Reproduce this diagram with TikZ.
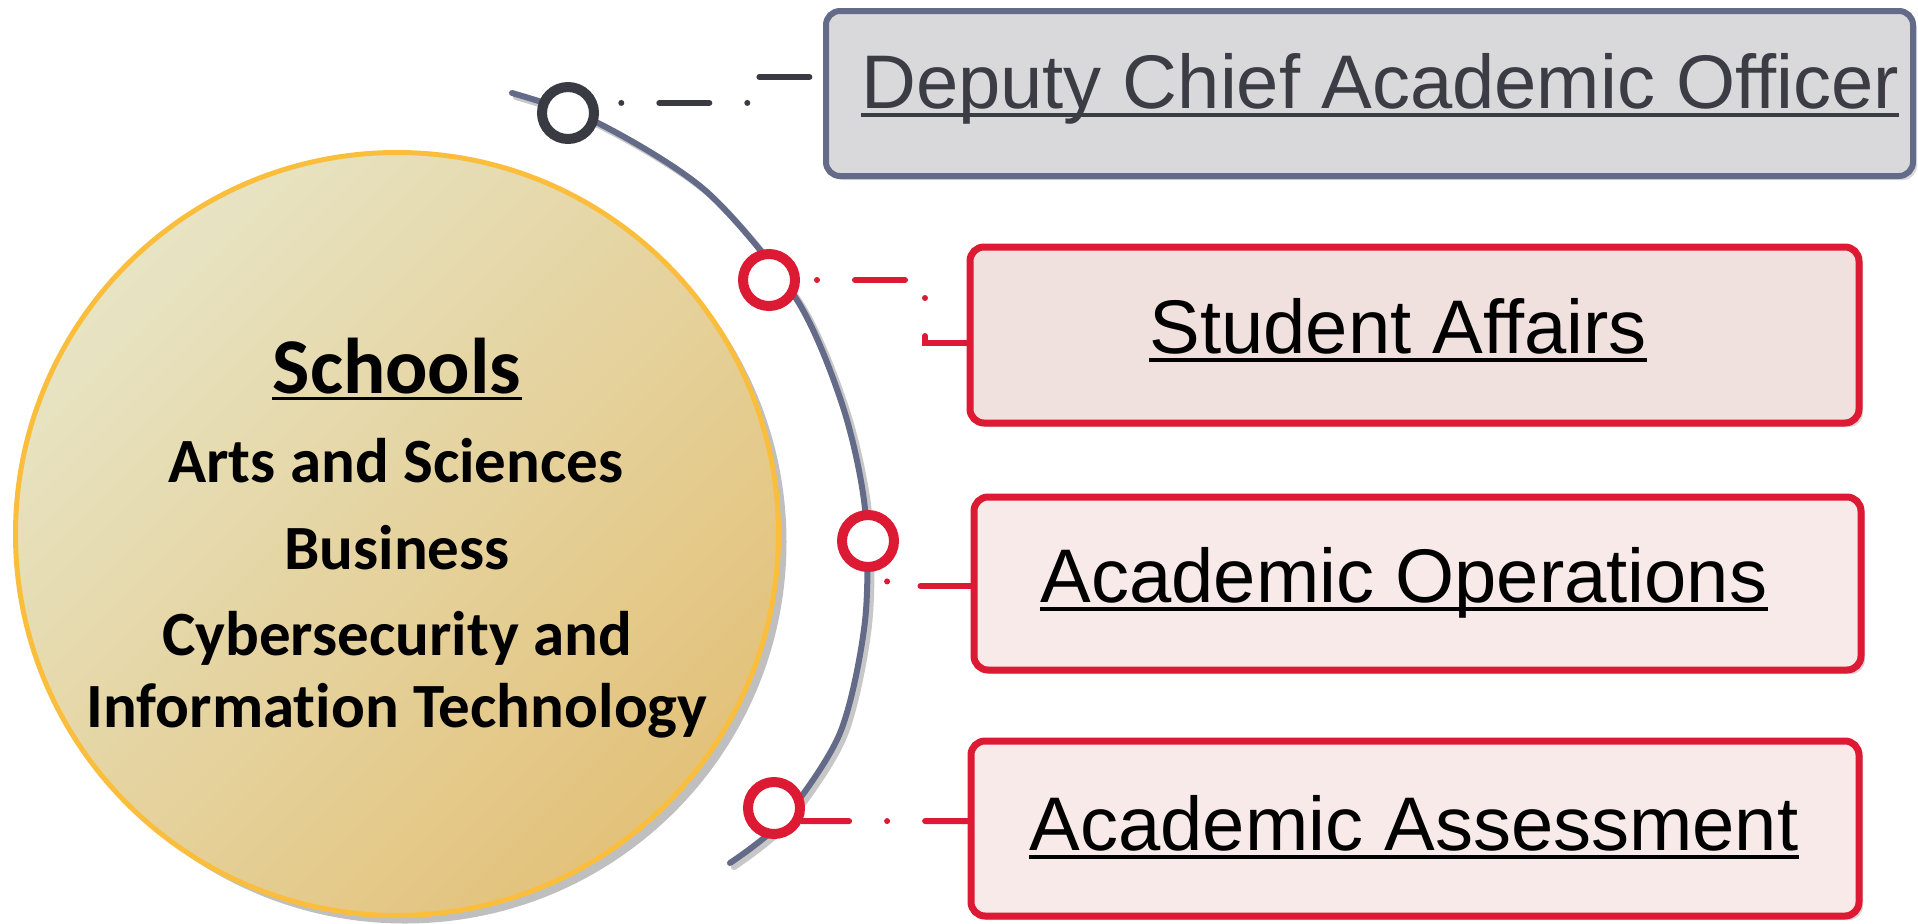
\documentclass[tikz,border=0pt]{standalone}
\usepackage{fontspec}
\setmainfont[Ligatures=NoCommon]{Carlito}
\newfontfamily\boxfont{Liberation Sans}
\usetikzlibrary{shadows}

\definecolor{arcblue}{HTML}{646B88}
\definecolor{ringdark}{HTML}{3A3B42}
\definecolor{ringred}{HTML}{DC1A33}
\definecolor{deputyfill}{HTML}{D9D9DC}
\definecolor{studentfill}{HTML}{F0E1DF}
\definecolor{unitfill}{HTML}{F8EAE8}
\definecolor{deputytext}{HTML}{3B3C44}
\definecolor{schoolyellow}{HTML}{FBBE3C}
\definecolor{schooltop}{HTML}{E7E4C4}
\definecolor{schoolbottom}{HTML}{E3C27A}

\tikzset{
  ring/.style={circle,draw,line width=5pt,fill=white,minimum size=26pt,inner sep=0pt,
    drop shadow={shadow xshift=1.5pt,shadow yshift=-1.5pt,opacity=0.25}},
  unitbox/.style={draw=ringred,fill=unitfill,line width=3.5pt,rounded corners=7pt,inner sep=0pt,
    drop shadow={shadow xshift=2pt,shadow yshift=-2pt,opacity=0.3}},
  boxtext/.style={anchor=base,inner sep=0pt,font=\boxfont\fontsize{38}{44}\selectfont},
  schooltext/.style={anchor=base,inner sep=0pt,font=\bfseries\fontsize{31.5}{36}\selectfont},
  link/.style={line width=3pt,line cap=round,dash pattern=on 0pt off 19pt on 25pt off 19pt},
  uline/.style={line width=2pt}
}

\begin{document}
\begin{tikzpicture}[x=0.5pt,y=-0.5pt]
  \useasboundingbox (0,0) rectangle (1918,923);

  % the arc
  \draw[black!22,line width=3pt,line cap=round,xshift=2pt,yshift=-2pt] plot[smooth] coordinates {(512,93) (600,124) (707,192) (797,300) (843,407) (865,509) (865,621) (840,733) (783,820) (730,863)};
  \draw[arcblue,line width=3pt,line cap=round] plot[smooth] coordinates {(512,93) (600,124) (707,192) (797,300) (843,407) (865,509) (865,621) (840,733) (783,820) (730,863)};

  % schools
  \node[circle,draw=schoolyellow,line width=2.5pt,minimum size=381.5pt,inner sep=0pt,
    top color=schooltop,bottom color=schoolbottom,shading angle=45,
    drop shadow={shadow xshift=4pt,shadow yshift=-4pt,opacity=0.5}] (schools) at (397,534) {};
  \node[schooltext,font=\bfseries\fontsize{39.5}{44}\selectfont] (schoolstitle) at (397,393) {Schools};
  \draw[line width=1.5pt] ([yshift=-2.5pt]schoolstitle.base west) -- ([yshift=-2.5pt]schoolstitle.base east);
  \node[schooltext] (arts) at (396,482) {Arts and Sciences};
  \node[schooltext] (business) at (397,569) {Business};
  \node[schooltext] (cyber) at (397,655) {Cybersecurity and};
  \node[schooltext] (infotech) at (397,727) {Information Technology};

  % boxes
  \node[unitbox,draw=arcblue,fill=deputyfill,line width=3pt,minimum width=543.5pt,minimum height=82.5pt] (deputy) at (1369.5,93.5) {};
  \node[unitbox,fill=studentfill,minimum width=444.5pt,minimum height=88pt] (student) at (1414.5,335) {};
  \node[unitbox,minimum width=443.5pt,minimum height=86.5pt] (operations) at (1417.5,583.5) {};
  \node[unitbox,minimum width=444pt,minimum height=87.5pt] (assessment) at (1415,828.5) {};

  \node[boxtext,text=deputytext] (deputytxt) at (1380,108) {Deputy Chief Academic Officer};
  \node[boxtext] (studenttxt) at (1398,353) {Student Affairs};
  \node[boxtext] (operationstxt) at (1404,602) {Academic Operations};
  \node[boxtext] (assessmenttxt) at (1414,850) {Academic Assessment};
  \foreach \t/\c in {deputytxt/deputytext,studenttxt/black,operationstxt/black,assessmenttxt/black}
    \draw[uline,\c] ([yshift=-3.5pt]\t.base west) -- ([yshift=-3.5pt]\t.base east);

  % rings
  \node[ring,draw=ringdark] (deputyring) at (568,113) {};
  \node[ring,draw=ringred] (studentring) at (769,280) {};
  \node[ring,draw=ringred] (operationsring) at (868,541) {};
  \node[ring,draw=ringred] (assessmentring) at (774,808) {};

  % connectors
  \draw[link,ringdark,dash phase=51pt] (deputyring.19) -| (759,77) -- (deputy.west |- 0,77);
  \draw[link,ringred,dash phase=54.5pt] (studentring.east) -| (925,343) -- (student.west |- 0,343);
  \draw[link,ringred,dash phase=55pt] (operationsring.-52) |- (operations.west |- 0,586);
  \draw[link,ringred,dash phase=20.5pt] (assessmentring.-25) -- (assessment.west |- 0,821);
\end{tikzpicture}
\end{document}
